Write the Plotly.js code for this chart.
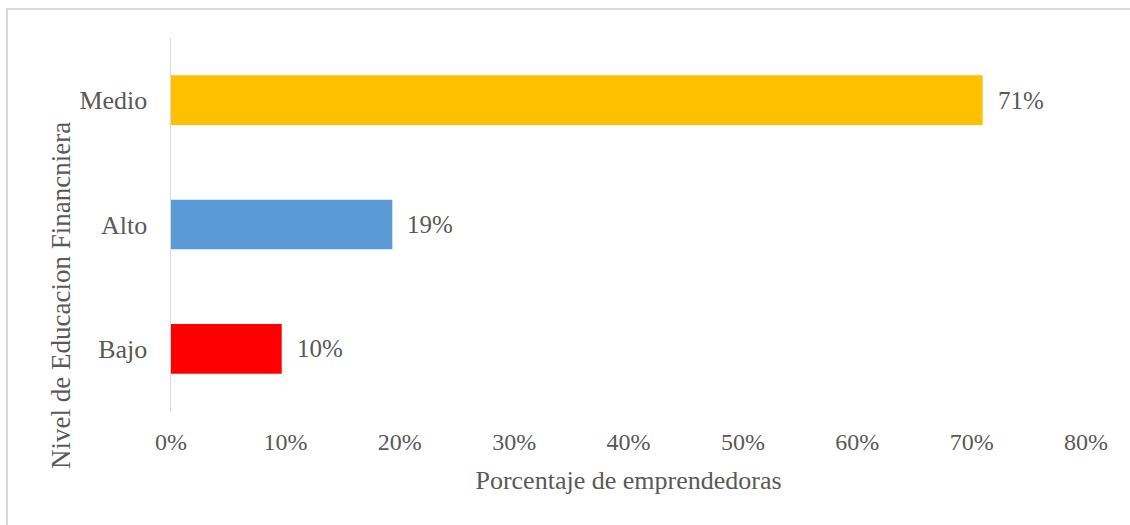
<!DOCTYPE html>
<html>
<head>
<meta charset="utf-8">
<script src="https://cdn.plot.ly/plotly-3.0.1.min.js"></script>
<style>
  html, body { margin: 0; padding: 0; background: #fff; }
  #wrap { position: relative; width: 1130px; height: 525px; }
  #chart { position: absolute; left: 0; top: 0; width: 1130px; height: 525px; }
  #frame { position: absolute; left: 6px; top: 8px; right: 0; bottom: 0;
           border-top: 2px solid #d9d9d9; border-left: 2px solid #d9d9d9; pointer-events: none; }
</style>
</head>
<body>
<div id="wrap">
  <div id="chart"></div>
  <div id="frame"></div>
</div>
<script>
const categories = ["Bajo", "Alto", "Medio"];
const values = [0.0968, 0.1935, 0.7097];
const barColors = ["#FF0000", "#5B9BD5", "#FFC000"];
const xTitle = "Porcentaje de emprendedoras";
const yTitle = "Nivel de Educacion Financniera";

const FONT = "'Liberation Serif', 'Times New Roman', serif";
const GRAY = "#595959";

const trace = {
  type: "bar",
  orientation: "h",
  x: values,
  y: categories,
  width: 0.4,
  marker: { color: barColors },
  hoverinfo: "none",
  cliponaxis: false
};

const annotations = values.map((v, i) => ({
  x: v, y: categories[i], xref: "x", yref: "y",
  text: Math.round(v * 100) + "%",
  showarrow: false, xanchor: "left", yanchor: "middle",
  xshift: 13,
  font: { family: FONT, size: 25, color: GRAY }
}));

// y-axis title drawn as a rotated annotation (positioned lower than plot centre, as in the original)
annotations.push({
  xref: "paper", yref: "paper",
  x: (61 - 171) / 915, y: (411 - 296) / 373,
  xanchor: "center", yanchor: "middle",
  textangle: -90, showarrow: false,
  text: yTitle,
  font: { family: FONT, size: 27, color: GRAY }
});

const layout = {
  width: 1130, height: 525,
  margin: { l: 171, r: 44, t: 38, b: 114, pad: 0 },
  paper_bgcolor: "rgba(0,0,0,0)",
  plot_bgcolor: "rgba(0,0,0,0)",
  showlegend: false,
  font: { family: FONT, color: GRAY },
  xaxis: {
    range: [0, 0.8], dtick: 0.1, tick0: 0, tickformat: ".0%",
    showgrid: false, zeroline: false, showline: false,
    ticks: "", ticklabelstandoff: 14,
    tickfont: { family: FONT, size: 24, color: GRAY },
    title: { text: xTitle, font: { family: FONT, size: 26, color: GRAY }, standoff: 16 },
    automargin: false, fixedrange: true
  },
  yaxis: {
    range: [-0.5, 2.5],
    categoryorder: "array", categoryarray: categories,
    showgrid: false, zeroline: false,
    showline: true, linecolor: "#d9d9d9", linewidth: 1.5,
    ticks: "", ticklabelstandoff: 17,
    tickfont: { family: FONT, size: 26, color: GRAY },
    automargin: false, fixedrange: true
  },
  annotations: annotations
};

Plotly.newPlot("chart", [trace], layout, { staticPlot: true, displayModeBar: false });
</script>
</body>
</html>
